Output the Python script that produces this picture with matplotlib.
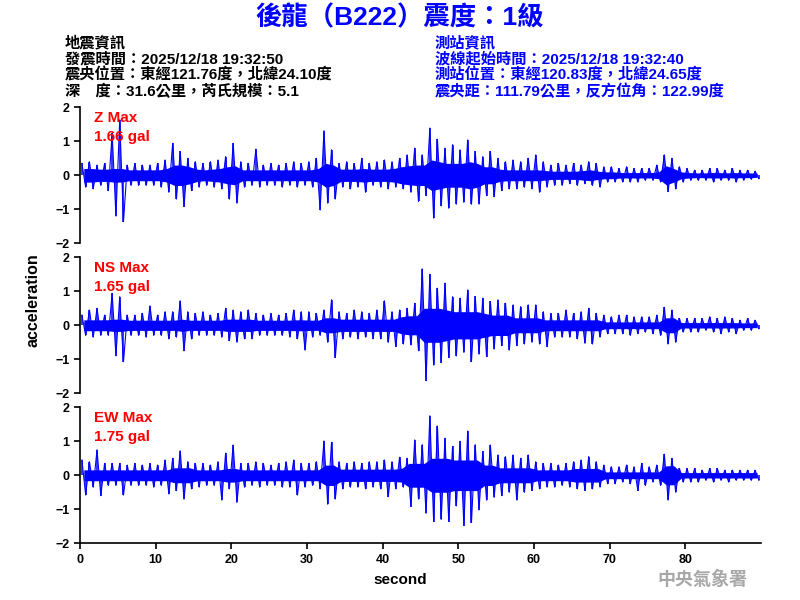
import numpy as np
import matplotlib
matplotlib.use("Agg")
import matplotlib.pyplot as plt

plt.rcParams['font.family'] = ['Liberation Sans', 'DejaVu Sans']
cjk = ['Liberation Sans', 'Noto Sans CJK TC', 'DejaVu Sans']

# per-second peak values (gal), second 0..89
z_up = [0.35, 0.4, 0.3, 0.35, 1.24, 1.63, 0.3, 0.35, 0.3, 0.3,
        0.35, 0.45, 0.94, 0.7, 0.5, 0.4, 0.35, 0.4, 0.45, 0.55,
        0.94, 0.4, 0.35, 0.77, 0.3, 0.35, 0.3, 0.35, 0.4, 0.35,
        0.4, 0.5, 1.31, 0.75, 0.35, 0.4, 0.35, 0.5, 0.35, 0.4,
        0.45, 0.4, 0.5, 0.6, 0.8, 0.6, 1.39, 1.06, 0.8, 0.9,
        0.75, 1.04, 0.7, 0.55, 0.7, 0.5, 0.4, 0.45, 0.4, 0.5,
        0.6, 0.4, 0.3, 0.35, 0.3, 0.35, 0.3, 0.4, 0.35, 0.25,
        0.25, 0.2, 0.25, 0.2, 0.2, 0.2, 0.3, 0.6, 0.5, 0.25,
        0.2, 0.15, 0.15, 0.2, 0.2, 0.15, 0.2, 0.15, 0.15, 0.12]
z_dn = [-0.35, -0.4, -0.3, -0.45, -1.2, -1.36, -0.3, -0.3, -0.3, -0.3,
        -0.35, -0.5, -0.7, -0.92, -0.45, -0.35, -0.3, -0.35, -0.4, -0.7,
        -0.82, -0.35, -0.3, -0.35, -0.3, -0.3, -0.35, -0.3, -0.35, -0.3,
        -0.35, -1.02, -0.82, -0.7, -0.35, -0.4, -0.35, -0.5, -0.3, -0.35,
        -0.4, -0.35, -0.4, -0.5, -0.77, -0.6, -1.26, -0.9, -0.97, -0.85,
        -0.8, -0.85, -0.85, -0.6, -0.63, -0.45, -0.4, -0.4, -0.35, -0.4,
        -0.5, -0.35, -0.3, -0.3, -0.25, -0.3, -0.25, -0.3, -0.35, -0.2,
        -0.2, -0.2, -0.2, -0.2, -0.15, -0.15, -0.2, -0.48, -0.4, -0.2,
        -0.15, -0.15, -0.15, -0.2, -0.15, -0.15, -0.2, -0.15, -0.12, -0.1]
# half-width of the dense part of the band, per second
z_core = [0.2, 0.2, 0.18, 0.18, 0.2, 0.2, 0.16, 0.16, 0.16, 0.16,
          0.16, 0.2, 0.3, 0.3, 0.25, 0.18, 0.16, 0.18, 0.2, 0.25,
          0.28, 0.16, 0.16, 0.16, 0.16, 0.16, 0.16, 0.16, 0.16, 0.16,
          0.16, 0.2, 0.35, 0.3, 0.18, 0.18, 0.18, 0.2, 0.18, 0.18,
          0.18, 0.2, 0.25, 0.28, 0.3, 0.3, 0.45, 0.4, 0.35, 0.35,
          0.35, 0.4, 0.35, 0.25, 0.25, 0.18, 0.16, 0.16, 0.16, 0.16,
          0.16, 0.14, 0.12, 0.12, 0.12, 0.12, 0.14, 0.16, 0.12, 0.1,
          0.1, 0.08, 0.08, 0.08, 0.08, 0.08, 0.1, 0.28, 0.2, 0.1,
          0.08, 0.07, 0.07, 0.08, 0.08, 0.07, 0.08, 0.07, 0.07, 0.06]

ns_up = [0.3, 0.45, 0.5, 0.3, 0.94, 0.84, 0.3, 0.3, 0.35, 0.57,
         0.3, 0.4, 0.4, 0.72, 0.4, 0.35, 0.4, 0.3, 0.35, 0.5,
         0.45, 0.4, 0.45, 0.35, 0.3, 0.35, 0.3, 0.35, 0.45, 0.4,
         0.4, 0.35, 0.45, 0.75, 0.4, 0.35, 0.45, 0.4, 0.35, 0.45,
         0.72, 0.4, 0.45, 0.5, 0.65, 1.66, 1.5, 1.09, 1.24, 0.84,
         0.8, 1.04, 0.85, 0.8, 0.7, 0.75, 0.65, 0.6, 0.55, 0.6,
         0.6, 0.4, 0.35, 0.35, 0.45, 0.35, 0.4, 0.5, 0.35, 0.3,
         0.25, 0.3, 0.3, 0.25, 0.25, 0.25, 0.3, 0.53, 0.45, 0.2,
         0.2, 0.2, 0.2, 0.25, 0.2, 0.25, 0.2, 0.15, 0.2, 0.15]
ns_dn = [-0.3, -0.35, -0.3, -0.3, -0.9, -1.07, -0.3, -0.3, -0.35, -0.3,
         -0.3, -0.4, -0.35, -0.75, -0.4, -0.3, -0.3, -0.3, -0.35, -0.45,
         -0.5, -0.4, -0.4, -0.3, -0.3, -0.3, -0.3, -0.35, -0.4, -0.73,
         -0.35, -0.3, -0.5, -0.95, -0.4, -0.35, -0.4, -0.35, -0.4, -0.4,
         -0.5, -0.63, -0.55, -0.58, -0.75, -1.63, -1.17, -1.1, -0.95, -0.9,
         -0.8, -1.07, -0.85, -0.92, -0.7, -0.6, -0.73, -0.6, -0.55, -0.5,
         -0.55, -0.63, -0.35, -0.35, -0.35, -0.4, -0.53, -0.55, -0.35, -0.25,
         -0.25, -0.25, -0.3, -0.25, -0.2, -0.25, -0.3, -0.55, -0.5, -0.2,
         -0.2, -0.2, -0.15, -0.2, -0.25, -0.2, -0.25, -0.15, -0.15, -0.1]
ns_core = [0.16, 0.16, 0.16, 0.16, 0.18, 0.18, 0.15, 0.15, 0.15, 0.15,
           0.15, 0.15, 0.15, 0.18, 0.15, 0.15, 0.15, 0.15, 0.15, 0.18,
           0.18, 0.18, 0.18, 0.15, 0.15, 0.15, 0.15, 0.15, 0.16, 0.16,
           0.15, 0.15, 0.22, 0.22, 0.18, 0.18, 0.18, 0.18, 0.18, 0.18,
           0.18, 0.18, 0.25, 0.28, 0.28, 0.5, 0.5, 0.5, 0.45, 0.4,
           0.4, 0.4, 0.4, 0.35, 0.3, 0.3, 0.3, 0.22, 0.22, 0.22,
           0.22, 0.16, 0.16, 0.16, 0.16, 0.16, 0.16, 0.16, 0.16, 0.1,
           0.1, 0.1, 0.1, 0.1, 0.1, 0.1, 0.1, 0.22, 0.22, 0.08,
           0.08, 0.08, 0.08, 0.08, 0.08, 0.08, 0.08, 0.07, 0.07, 0.07]

ew_up = [0.45, 0.4, 0.75, 0.35, 0.35, 0.35, 0.3, 0.35, 0.3, 0.35,
         0.3, 0.45, 0.5, 0.72, 0.4, 0.35, 0.35, 0.3, 0.4, 0.65,
         0.89, 0.35, 0.35, 0.4, 0.35, 0.3, 0.35, 0.4, 0.45, 0.35,
         0.35, 0.4, 1.01, 0.97, 0.4, 0.35, 0.4, 0.35, 0.4, 0.4,
         0.45, 0.4, 0.53, 0.5, 1.04, 0.9, 1.75, 1.45, 1.09, 0.85,
         1.0, 1.3, 0.9, 0.7, 0.89, 0.6, 0.55, 0.6, 0.5, 0.6,
         0.4, 0.35, 0.35, 0.3, 0.35, 0.4, 0.45, 0.55, 0.4, 0.3,
         0.25, 0.25, 0.3, 0.25, 0.35, 0.25, 0.3, 0.62, 0.5, 0.2,
         0.2, 0.2, 0.15, 0.2, 0.2, 0.15, 0.15, 0.15, 0.15, 0.15]
ew_dn = [-0.58, -0.35, -0.6, -0.3, -0.3, -0.58, -0.3, -0.3, -0.3, -0.35,
         -0.3, -0.55, -0.45, -0.7, -0.4, -0.35, -0.3, -0.3, -0.73, -0.4,
         -0.8, -0.35, -0.3, -0.35, -0.3, -0.3, -0.35, -0.35, -0.58, -0.35,
         -0.3, -0.4, -0.85, -0.7, -0.4, -0.35, -0.35, -0.4, -0.35, -0.4,
         -0.63, -0.4, -0.35, -0.92, -0.7, -1.12, -1.36, -1.3, -1.36, -0.9,
         -1.48, -1.39, -1.02, -0.73, -0.65, -0.6, -0.5, -0.73, -0.5, -0.45,
         -0.4, -0.35, -0.35, -0.3, -0.35, -0.4, -0.45, -0.4, -0.35, -0.25,
         -0.25, -0.2, -0.25, -0.45, -0.3, -0.2, -0.3, -0.73, -0.5, -0.2,
         -0.2, -0.2, -0.15, -0.2, -0.15, -0.2, -0.15, -0.15, -0.15, -0.15]
ew_core = [0.16, 0.16, 0.16, 0.16, 0.16, 0.16, 0.16, 0.16, 0.16, 0.16,
           0.16, 0.16, 0.22, 0.22, 0.22, 0.16, 0.16, 0.16, 0.16, 0.2,
           0.2, 0.16, 0.16, 0.16, 0.16, 0.16, 0.16, 0.16, 0.16, 0.16,
           0.16, 0.16, 0.3, 0.3, 0.18, 0.18, 0.18, 0.18, 0.18, 0.18,
           0.18, 0.18, 0.2, 0.35, 0.35, 0.35, 0.5, 0.5, 0.5, 0.45,
           0.45, 0.45, 0.45, 0.3, 0.3, 0.22, 0.22, 0.22, 0.22, 0.22,
           0.16, 0.16, 0.16, 0.16, 0.16, 0.2, 0.2, 0.2, 0.2, 0.1,
           0.1, 0.1, 0.1, 0.1, 0.1, 0.1, 0.1, 0.28, 0.28, 0.08,
           0.08, 0.08, 0.08, 0.08, 0.08, 0.08, 0.08, 0.08, 0.08, 0.08]

names = ["Z Max", "NS Max", "EW Max"]
max_gal = ["1.66 gal", "1.65 gal", "1.75 gal"]
traces = [(z_up, z_dn, z_core), (ns_up, ns_dn, ns_core), (ew_up, ew_dn, ew_core)]

fig = plt.figure(figsize=(8, 6), dpi=100)

bottoms = [0.5945, 0.3445, 0.0945]
for k, (up, dn, core) in enumerate(traces):
    ax = fig.add_axes([0.1, bottoms[k], 0.851, 0.2267])
    sec = np.arange(len(up))
    core = np.array(core)
    ax.fill_between(sec + 0.5, -core, core, color='blue', lw=0)
    # zigzag through the peaks plus a stick at every peak
    tx = np.ravel(np.column_stack([sec + 0.25, sec + 0.75]))
    ty = np.ravel(np.column_stack([up, dn]))
    ax.plot(tx, ty, color='blue', lw=0.8)
    ax.vlines(sec + 0.25, 0, up, color='blue', lw=1.1)
    ax.vlines(sec + 0.75, dn, 0, color='blue', lw=1.1)
    ax.set_xlim(0, 90)
    ax.set_ylim(-2, 2)
    ax.set_yticks([-2, -1, 0, 1, 2])
    for s in ['top', 'right']:
        ax.spines[s].set_visible(False)
    ax.spines['left'].set_linewidth(1.2)
    ax.tick_params(axis='y', direction='out', length=4, width=1.2, labelsize=9)
    for lb in ax.get_yticklabels():
        lb.set_fontweight('bold')
    if k < 2:
        ax.spines['bottom'].set_visible(False)
        ax.set_xticks([])
    else:
        ax.spines['bottom'].set_linewidth(1.2)
        ax.set_xticks(range(0, 81, 10))
        ax.tick_params(axis='x', direction='out', length=4, width=1.2, labelsize=9)
        for lb in ax.get_xticklabels():
            lb.set_fontweight('bold')
    ax.text(0.02, 0.92, names[k], transform=ax.transAxes, color='red',
            fontsize=11, fontweight='bold', va='center', ha='left')
    ax.text(0.02, 0.782, max_gal[k], transform=ax.transAxes, color='red',
            fontsize=11, fontweight='bold', va='center', ha='left')

fig.text(0.5, 0.97, "後龍（B222）震度：1級", color='blue', fontsize=19,
         fontweight='bold', ha='center', va='center', family=cjk)

left_info = ["地震資訊",
             "發震時間：2025/12/18 19:32:50",
             "震央位置：東經121.76度，北緯24.10度",
             "深　度：31.6公里，芮氏規模：5.1"]
right_info = ["測站資訊",
              "波線起始時間：2025/12/18 19:32:40",
              "測站位置：東經120.83度，北緯24.65度",
              "震央距：111.79公里，反方位角：122.99度"]
for i, line in enumerate(left_info):
    fig.text(65 / 800, 1 - (43 + 16 * i) / 600, line, color='black',
             fontsize=11, fontweight='bold', ha='left', va='center', family=cjk)
for i, line in enumerate(right_info):
    fig.text(435 / 800, 1 - (43 + 16 * i) / 600, line, color='blue',
             fontsize=11, fontweight='bold', ha='left', va='center', family=cjk)

fig.text(33 / 800, 0.5, "acceleration", rotation=90, fontsize=11.5,
         fontweight='bold', ha='center', va='center')
fig.text(0.5, 1 - 580 / 600, "second", fontsize=11, fontweight='bold',
         ha='center', va='center')
fig.text(702 / 800, 1 - 580 / 600, "中央氣象署", color='#a8a8a8', fontsize=13,
         fontweight='bold', ha='center', va='center', family=cjk)

fig.savefig("out.png", dpi=100)
